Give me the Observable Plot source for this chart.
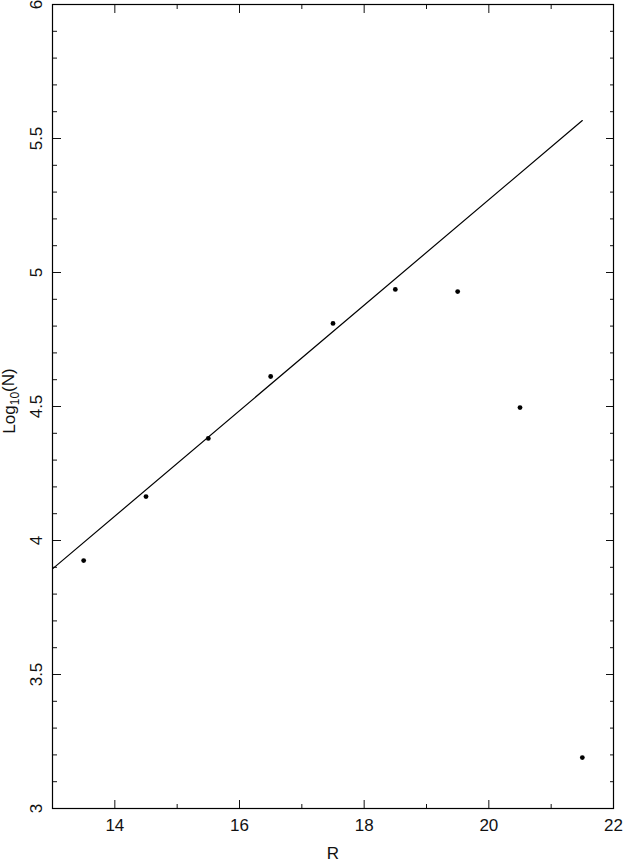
<!DOCTYPE html>
<html>
<head>
<meta charset="utf-8">
<script src="https://cdn.jsdelivr.net/npm/d3@7"></script>
<script src="https://cdn.jsdelivr.net/npm/@observablehq/plot@0.6"></script>
<style>
  html, body { margin: 0; padding: 0; background: #fff; }
  #chart svg { display: block; }
</style>
</head>
<body>
<div id="chart"></div>
<script>
// Data
const magR   = [13.5, 14.5, 15.5, 16.5, 17.5, 18.5, 19.5, 20.5, 21.5];
const logN   = [3.925, 4.164, 4.381, 4.612, 4.810, 4.937, 4.929, 4.496, 3.190];
// fitted line end points
const fitR    = [13, 21.5];
const fitLogN = [3.894, 5.567];

// Ticks
const xMajor = [14, 16, 18, 20, 22];
const xMinor = [15, 17, 19, 21];
const yMajor = [3, 3.5, 4, 4.5, 5, 5.5, 6];
const yMinor = [3.1,3.2,3.3,3.4,3.6,3.7,3.8,3.9,4.1,4.2,4.3,4.4,4.6,4.7,4.8,4.9,5.1,5.2,5.3,5.4,5.6,5.7,5.8,5.9];
const xLabels = ["14", "16", "18", "20", "22"];
const yLabels = ["3", "3.5", "4", "4.5", "5", "5.5", "6"];

const points = magR.map((r, i) => ({r, n: logN[i]}));
const fit = fitR.map((r, i) => ({r, n: fitLogN[i]}));

const font = "'Liberation Sans', Arial, Helvetica, sans-serif";
const ink = "#111";

const plot = Plot.plot({
  width: 624,
  height: 865,
  marginLeft: 52,
  marginRight: 11,
  marginTop: 4,
  marginBottom: 57,
  style: {fontFamily: font, fontSize: "17px", color: ink, background: "#fff"},
  x: {domain: [13, 22], axis: null},
  y: {domain: [3, 6], axis: null},
  marks: [
    // inward ticks on all four sides
    Plot.axisX({anchor: "bottom", ticks: xMajor, tickSize: -8, fill: "none", label: null}),
    Plot.axisX({anchor: "bottom", ticks: xMinor, tickSize: -4, fill: "none", label: null}),
    Plot.axisX({anchor: "top", ticks: xMajor, tickSize: -8, fill: "none", label: null}),
    Plot.axisX({anchor: "top", ticks: xMinor, tickSize: -4, fill: "none", label: null}),
    Plot.axisY({anchor: "left", ticks: yMajor, tickSize: -9, fill: "none", label: null}),
    Plot.axisY({anchor: "left", ticks: yMinor, tickSize: -5, fill: "none", label: null}),
    Plot.axisY({anchor: "right", ticks: yMajor, tickSize: -8, fill: "none", label: null}),
    Plot.axisY({anchor: "right", ticks: yMinor, tickSize: -4, fill: "none", label: null}),
    // tick labels
    Plot.text(xMajor, {x: d => d, text: (d, i) => xLabels[i], frameAnchor: "bottom", dy: 10, lineAnchor: "top", fill: ink, fontSize: 17}),
    Plot.text(yMajor, {y: d => d, text: (d, i) => yLabels[i], frameAnchor: "left", dx: -16, rotate: -90, textAnchor: "middle", lineAnchor: "middle", fill: ink, fontSize: 17}),
    // x axis title
    Plot.text(["R"], {frameAnchor: "bottom", dy: 38, lineAnchor: "top", text: d => d, fill: ink, fontSize: 17}),
    Plot.frame({stroke: "#000", strokeWidth: 1.2}),
    Plot.line(fit, {x: "r", y: "n", stroke: "#000", strokeWidth: 1.2}),
    Plot.dot(points, {x: "r", y: "n", r: 2.4, fill: "#000", stroke: "none"})
  ]
});

// y-axis title with subscript
const svg = d3.select(plot);
const t = svg.append("text")
  .attr("transform", "translate(15,401) rotate(-90)")
  .attr("text-anchor", "middle")
  .attr("fill", ink)
  .style("font-family", font)
  .style("font-size", "17px");
t.append("tspan").text("Log");
t.append("tspan").attr("dy", "0.3em").style("font-size", "12px").text("10");
t.append("tspan").attr("dy", "-0.3em").text("(N)");

document.getElementById("chart").append(plot);
</script>
</body>
</html>
